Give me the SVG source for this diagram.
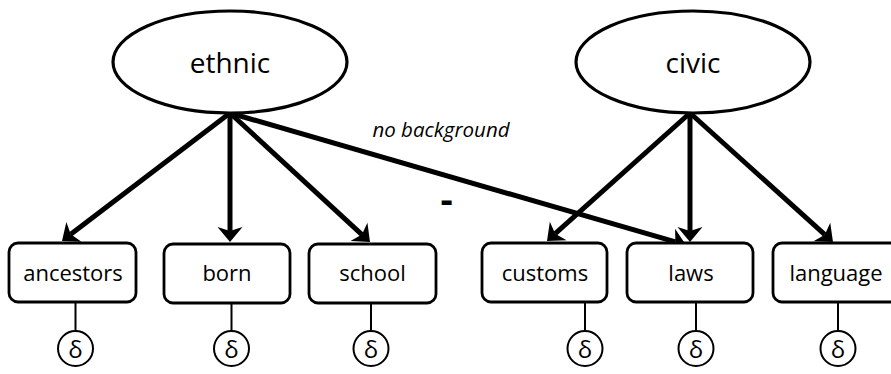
<svg xmlns="http://www.w3.org/2000/svg" width="891" height="374" viewBox="0 0 891 374">
<style>
.lat{fill:#fff;stroke:#000;stroke-width:3.2}
.box{fill:#fff;stroke:#000;stroke-width:2.8}
.err{fill:#fff;stroke:#000;stroke-width:2}
.t{font-family:"Open Sans","Liberation Sans",sans-serif;fill:#000;text-anchor:middle}
.big{font-size:28px}
.mid{font-size:22px}
.d{font-size:24px}
.arr{stroke:#000;stroke-width:5;fill:none;marker-end:url(#ah)}
.el{stroke:#000;stroke-width:2;fill:none}
</style>
<defs>
<marker id="ah" markerUnits="userSpaceOnUse" orient="auto" overflow="visible" markerWidth="1" markerHeight="1" refX="0" refY="0">
<path d="M11,0 L-4,-12.5 L0,0 L-4,12.5 Z" fill="#000"/>
</marker>
</defs>
<rect width="891" height="374" fill="#fff"/>
<g id="connectors">
<line class="arr" x1="230" y1="113" x2="70.75" y2="234.33"/>
<line class="arr" x1="230" y1="113" x2="230" y2="231"/>
<line class="arr" x1="230" y1="113" x2="361.91" y2="234.55"/>
<line class="arr" x1="230" y1="113" x2="675.43" y2="241.94"/>
<line class="arr" x1="690" y1="113" x2="555.2" y2="233.66"/>
<line class="arr" x1="690" y1="113" x2="690" y2="231"/>
<line class="arr" x1="690" y1="113" x2="824.83" y2="234.63"/>
<line class="el" x1="75.5" y1="303" x2="75.5" y2="331"/>
<line class="el" x1="231.5" y1="304" x2="231.5" y2="331"/>
<line class="el" x1="371" y1="304" x2="371" y2="331"/>
<line class="el" x1="585" y1="303" x2="585" y2="331"/>
<line class="el" x1="696" y1="303" x2="696" y2="331"/>
<line class="el" x1="838" y1="302" x2="838" y2="331"/>
<text class="t" x="441" y="137" font-size="20.5" font-style="italic">no background</text>
<text class="t" x="446.5" y="213" font-size="38" font-weight="bold">-</text>
</g>
<g id="ethnic"><ellipse class="lat" cx="230" cy="62" rx="117" ry="51"/><text class="t big" x="230" y="73">ethnic</text></g>
<g id="civic"><ellipse class="lat" cx="693" cy="62" rx="117" ry="51"/><text class="t big" x="693" y="73">civic</text></g>
<g id="ancestors"><rect class="box" x="9" y="243" width="127" height="59" rx="9"/><text class="t mid" x="73" y="281">ancestors</text></g>
<g id="born"><rect class="box" x="164" y="244" width="126" height="59" rx="9"/><text class="t mid" x="227" y="281">born</text></g>
<g id="school"><rect class="box" x="309" y="244" width="127" height="59" rx="9"/><text class="t mid" x="372.5" y="281">school</text></g>
<g id="customs"><rect class="box" x="482" y="243" width="125" height="59" rx="9"/><text class="t mid" x="545" y="281">customs</text></g>
<g id="laws"><rect class="box" x="627" y="243" width="126" height="59" rx="9"/><text class="t mid" x="691" y="281">laws</text></g>
<g id="language"><rect class="box" x="773" y="243" width="130" height="59" rx="9"/><text class="t mid" x="836" y="281">language</text></g>
<g id="d1"><circle class="err" cx="75.5" cy="348.5" r="17.5"/><text class="t d" x="75.5" y="357.5">δ</text></g>
<g id="d2"><circle class="err" cx="231.5" cy="348.5" r="17.5"/><text class="t d" x="231.5" y="357.5">δ</text></g>
<g id="d3"><circle class="err" cx="371" cy="348.5" r="17.5"/><text class="t d" x="371" y="357.5">δ</text></g>
<g id="d4"><circle class="err" cx="585" cy="348.5" r="17.5"/><text class="t d" x="585" y="357.5">δ</text></g>
<g id="d5"><circle class="err" cx="696" cy="348.5" r="17.5"/><text class="t d" x="696" y="357.5">δ</text></g>
<g id="d6"><circle class="err" cx="838" cy="348.5" r="17.5"/><text class="t d" x="838" y="357.5">δ</text></g>
</svg>
